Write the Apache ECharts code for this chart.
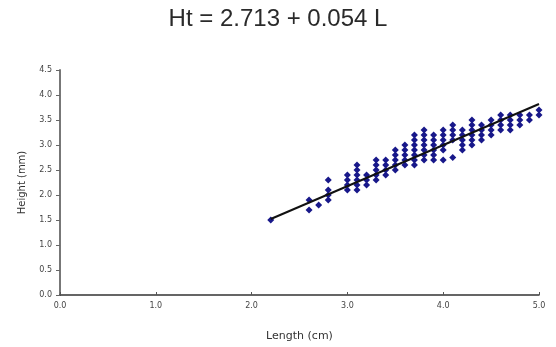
<!DOCTYPE html>
<html>
<head>
<meta charset="utf-8">
<script src="https://cdn.jsdelivr.net/npm/echarts@6/dist/echarts.min.js"></script>
<style>html,body{margin:0;padding:0;background:#fff;}#c{width:556px;height:347px;}</style>
</head>
<body>
<div id="c"></div>
<script>
// Data
const titleText = 'Ht = 2.713 + 0.054 L';
const xAxisName = 'Length (cm)';
const yAxisName = 'Height (mm)';
const columnLengths = [2.2, 2.6, 2.7, 2.8, 3.0, 3.1, 3.2, 3.3, 3.4, 3.5, 3.6, 3.7, 3.8, 3.9, 4.0, 4.1, 4.2, 4.3, 4.4, 4.5, 4.6, 4.7, 4.8, 4.9, 5.0];
const columnHeights = [
  [1.5],
  [1.9, 1.7],
  [1.8],
  [2.3, 2.1, 2.0, 1.9],
  [2.4, 2.3, 2.2, 2.1],
  [2.6, 2.5, 2.4, 2.3, 2.2, 2.1],
  [2.4, 2.3, 2.2],
  [2.7, 2.6, 2.5, 2.4, 2.3],
  [2.7, 2.6, 2.5, 2.4],
  [2.9, 2.8, 2.7, 2.6, 2.5],
  [3.0, 2.9, 2.8, 2.7, 2.6],
  [3.2, 3.1, 3.0, 2.9, 2.8, 2.7, 2.6],
  [3.3, 3.2, 3.1, 3.0, 2.9, 2.8, 2.7],
  [3.2, 3.1, 3.0, 2.9, 2.8, 2.7],
  [3.3, 3.2, 3.1, 3.0, 2.9, 2.7],
  [3.4, 3.3, 3.2, 3.1, 2.75],
  [3.3, 3.2, 3.1, 3.0, 2.9],
  [3.5, 3.4, 3.3, 3.2, 3.1, 3.0],
  [3.4, 3.3, 3.2, 3.1],
  [3.5, 3.4, 3.3, 3.2],
  [3.6, 3.5, 3.4, 3.3],
  [3.6, 3.5, 3.4, 3.3],
  [3.6, 3.5, 3.4],
  [3.6, 3.5],
  [3.7, 3.6]
];
const fitLengths = [2.2, 5.0];
const fitHeights = [1.52, 3.82];

const points = [];
columnLengths.forEach((L, i) => columnHeights[i].forEach(h => points.push([L, h])));
const fitLine = fitLengths.map((L, i) => [L, fitHeights[i]]);

const chart = echarts.init(document.getElementById('c'), null, {renderer: 'canvas'});
const axisLabelStyle = {fontFamily: 'DejaVu Sans', fontSize: 8, color: '#444'};
chart.setOption({
  animation: false,
  backgroundColor: '#fff',
  title: {
    text: titleText, left: 'center', top: 2,
    textStyle: {fontFamily: 'Liberation Sans', fontSize: 24, fontWeight: 'normal', color: '#2a2a2a'}
  },
  grid: {left: 60, right: 17, top: 70, bottom: 52},
  xAxis: {
    type: 'value', min: 0, max: 5, interval: 1,
    name: xAxisName, nameLocation: 'middle', nameGap: 36,
    nameTextStyle: {fontFamily: 'DejaVu Sans', fontSize: 11, color: '#333'},
    axisLine: {lineStyle: {color: '#333', width: 1.5}},
    axisTick: {show: true, inside: true, length: 3, lineStyle: {color: '#555'}},
    axisLabel: Object.assign({margin: 7, formatter: v => v.toFixed(1)}, axisLabelStyle),
    splitLine: {show: false}
  },
  yAxis: {
    type: 'value', min: 0, max: 4.5, interval: 0.5,
    name: yAxisName, nameLocation: 'middle', nameGap: 33,
    nameTextStyle: {fontFamily: 'DejaVu Sans', fontSize: 10, color: '#333'},
    axisLine: {show: true, lineStyle: {color: '#777', width: 2}},
    axisTick: {show: true, length: 4, lineStyle: {color: '#666'}},
    axisLabel: Object.assign({margin: 8, formatter: v => v.toFixed(1)}, axisLabelStyle),
    splitLine: {show: false}
  },
  series: [
    {
      type: 'scatter', data: points, symbol: 'diamond', symbolSize: 7,
      itemStyle: {color: '#18188a', opacity: 1}, z: 2
    },
    {
      type: 'line', data: fitLine, symbol: 'none',
      lineStyle: {color: '#111', width: 2}, z: 3
    }
  ]
});
</script>
</body>
</html>
